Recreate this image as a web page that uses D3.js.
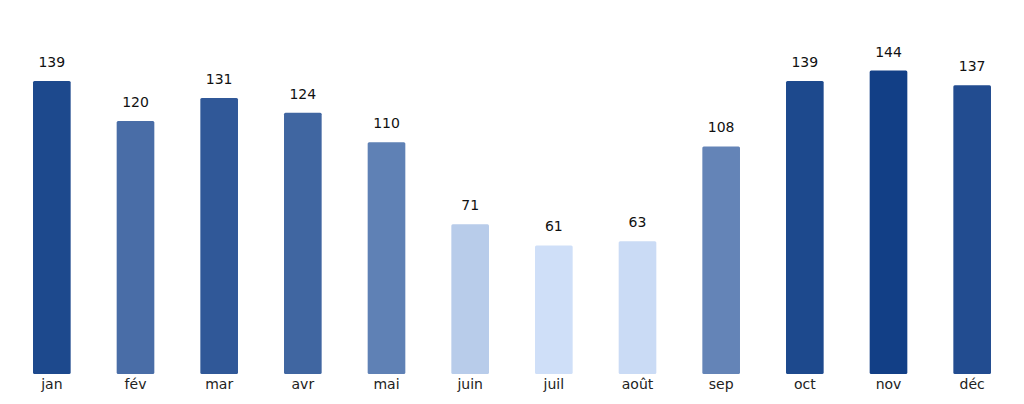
<!DOCTYPE html>
<html><head><meta charset="utf-8">
<script src="https://cdn.jsdelivr.net/npm/d3@7"></script>
<style>body{margin:0;background:#fff}svg{display:block}</style>
</head><body>
<svg id="c" width="1024" height="404"></svg>
<script>
const months = ["jan","fév","mar","avr","mai","juin","juil","août","sep","oct","nov","déc"];
const values = [139,120,131,124,110,71,61,63,108,139,144,137];

const svg = d3.select("#c");
const x = d3.scaleBand().domain(months).range([10,1014]).paddingInner(0.55).paddingOuter(0.275);
const y = d3.scaleLinear().domain([0,144]).range([374,70.5]);
const color = d3.scaleLinear().domain([61,144]).range(["#cfdff8","#123f86"]);
const data = months.map((m,i)=>({m,v:values[i]}));

svg.selectAll("rect.bar").data(data).join("rect")
  .attr("x",d=>x(d.m)).attr("width",x.bandwidth())
  .attr("y",d=>y(d.v)).attr("height",d=>y(0)-y(d.v))
  .attr("rx",1.5).attr("fill",d=>color(d.v));

svg.selectAll("text.val").data(data).join("text")
  .attr("x",d=>x(d.m)+x.bandwidth()/2).attr("y",d=>y(d.v)-14)
  .attr("text-anchor","middle").attr("font-family","DejaVu Sans").attr("font-size",14)
  .attr("fill","#111").text(d=>d.v);

const ax = svg.append("g").attr("transform","translate(0,374)").call(d3.axisBottom(x).tickSize(0).tickPadding(5));
ax.select(".domain").remove();
ax.selectAll("text").attr("font-family","DejaVu Sans").attr("font-size",14).attr("fill","#222");
</script>
</body></html>
